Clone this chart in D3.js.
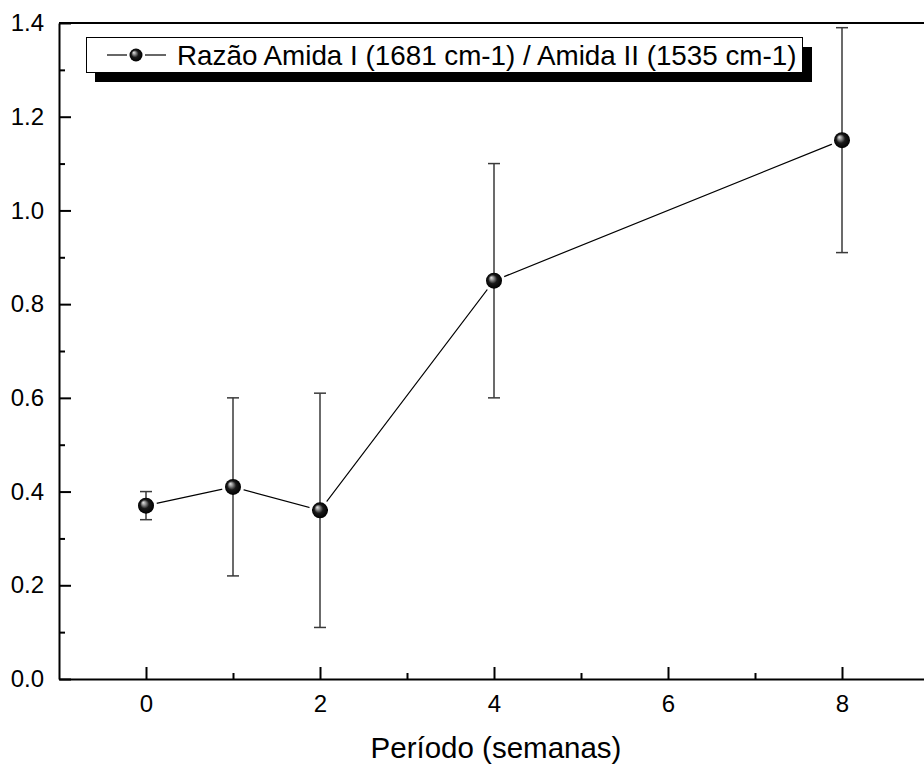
<!DOCTYPE html>
<html>
<head>
    <meta charset="utf-8">
    <script src="https://cdn.jsdelivr.net/npm/d3@7"></script>
    <style>
        body { margin: 0; background: white; }
        svg { display: block; font-family: "Liberation Sans", Arial, sans-serif; }
    </style>
</head>
<body>
    <div id="chart"></div>
    <script>
        // data
        const weeks = [0, 1, 2, 4, 8];
        const ratio = [0.37, 0.41, 0.36, 0.85, 1.15];
        const errors = [0.03, 0.19, 0.25, 0.25, 0.24];
        const xTicks = [0, 2, 4, 6, 8];
        const xMinorTicks = [1, 3, 5, 7];
        const yTicks = [0, 0.2, 0.4, 0.6, 0.8, 1.0, 1.2, 1.4];
        const yMinorTicks = [0.1, 0.3, 0.5, 0.7, 0.9, 1.1, 1.3];
        const seriesName = "Razão Amida I (1681 cm-1) / Amida II (1535 cm-1)";
        const xTitle = "Período (semanas)";

        const width = 924;
        const height = 767;
        const plotLeft = 59, plotRight = 929, plotTop = 23, plotBottom = 679;

        const svg = d3.select("#chart")
            .append("svg")
            .attr("width", width)
            .attr("height", height);

        const x = d3.scaleLinear().domain([-1, 9]).range([plotLeft, plotRight]);
        const y = d3.scaleLinear().domain([0, 1.4]).range([plotBottom, plotTop]);

        // sphere marker gradient
        const defs = svg.append("defs");
        const grad = defs.append("radialGradient")
            .attr("id", "ball")
            .attr("cx", "50%").attr("cy", "50%").attr("r", "50%")
            .attr("fx", "32%").attr("fy", "30%");
        grad.append("stop").attr("offset", "0%").attr("stop-color", "#e8e8e8");
        grad.append("stop").attr("offset", "22%").attr("stop-color", "#9a9a9a");
        grad.append("stop").attr("offset", "55%").attr("stop-color", "#1a1a1a");
        grad.append("stop").attr("offset", "100%").attr("stop-color", "#000");

        // frame (top and right)
        svg.append("path")
            .attr("d", `M${plotLeft},${plotTop}H${plotRight}V${plotBottom}`)
            .attr("fill", "none")
            .attr("stroke", "black")
            .attr("stroke-width", 2);

        // axes with inward ticks
        svg.append("g")
            .attr("transform", `translate(${plotLeft},0)`)
            .call(d3.axisLeft(y).tickValues(yTicks).tickFormat(d3.format(".1f"))
                .tickSizeInner(-12).tickSizeOuter(0).tickPadding(15));
        svg.append("g")
            .attr("transform", `translate(${plotLeft},0)`)
            .call(d3.axisLeft(y).tickValues(yMinorTicks).tickFormat("")
                .tickSizeInner(-6).tickSizeOuter(0))
            .call(g => g.select(".domain").remove());

        svg.append("g")
            .attr("transform", `translate(0,${plotBottom})`)
            .call(d3.axisBottom(x).tickValues(xTicks)
                .tickSizeInner(-12).tickSizeOuter(0).tickPadding(16));
        svg.append("g")
            .attr("transform", `translate(0,${plotBottom})`)
            .call(d3.axisBottom(x).tickValues(xMinorTicks).tickFormat("")
                .tickSizeInner(-6).tickSizeOuter(0))
            .call(g => g.select(".domain").remove());

        svg.selectAll(".domain, .tick line")
            .attr("stroke", "black")
            .attr("stroke-width", 2);
        svg.selectAll(".tick text")
            .attr("font-family", "Liberation Sans, Arial, sans-serif")
            .attr("font-size", 24)
            .attr("fill", "black");

        // axis title
        svg.append("text")
            .attr("x", 496)
            .attr("y", 758)
            .attr("text-anchor", "middle")
            .attr("font-size", 29.5)
            .text(xTitle);

        const points = weeks.map((w, i) => ({ w: w, v: ratio[i], e: errors[i] }));

        // connecting line
        svg.append("path")
            .datum(points)
            .attr("fill", "none")
            .attr("stroke", "black")
            .attr("stroke-width", 1.2)
            .attr("d", d3.line().x(d => x(d.w)).y(d => y(d.v)));

        // white gap around markers (Origin style)
        svg.selectAll(".halo")
            .data(points)
            .join("circle")
            .attr("class", "halo")
            .attr("cx", d => x(d.w))
            .attr("cy", d => y(d.v))
            .attr("r", 11)
            .attr("fill", "white");

        // error bars
        const eb = svg.selectAll(".err")
            .data(points)
            .join("g")
            .attr("class", "err")
            .attr("stroke", "#3a3a3a")
            .attr("stroke-width", 1.5);
        eb.append("line")
            .attr("x1", d => x(d.w)).attr("x2", d => x(d.w))
            .attr("y1", d => y(d.v - d.e)).attr("y2", d => y(d.v + d.e));
        eb.append("line")
            .attr("x1", d => x(d.w) - 6).attr("x2", d => x(d.w) + 6)
            .attr("y1", d => y(d.v + d.e)).attr("y2", d => y(d.v + d.e));
        eb.append("line")
            .attr("x1", d => x(d.w) - 6).attr("x2", d => x(d.w) + 6)
            .attr("y1", d => y(d.v - d.e)).attr("y2", d => y(d.v - d.e));

        // markers
        svg.selectAll(".ball")
            .data(points)
            .join("circle")
            .attr("class", "ball")
            .attr("cx", d => x(d.w))
            .attr("cy", d => y(d.v))
            .attr("r", 8)
            .attr("fill", "url(#ball)");

        // legend with shadow
        const legend = svg.append("g");
        legend.append("rect")
            .attr("x", 95).attr("y", 47)
            .attr("width", 717).attr("height", 35)
            .attr("fill", "black");
        legend.append("rect")
            .attr("x", 86.5).attr("y", 37.5)
            .attr("width", 716).attr("height", 35)
            .attr("fill", "white")
            .attr("stroke", "black")
            .attr("stroke-width", 1);
        legend.append("line")
            .attr("x1", 107).attr("x2", 127).attr("y1", 55).attr("y2", 55)
            .attr("stroke", "black").attr("stroke-width", 1.2);
        legend.append("line")
            .attr("x1", 145).attr("x2", 166).attr("y1", 55).attr("y2", 55)
            .attr("stroke", "black").attr("stroke-width", 1.2);
        legend.append("circle")
            .attr("cx", 136).attr("cy", 55).attr("r", 6.5)
            .attr("fill", "url(#ball)");
        legend.append("text")
            .attr("x", 177)
            .attr("y", 65)
            .attr("font-size", 27.8)
            .text(seriesName);
    </script>
</body>
</html>
